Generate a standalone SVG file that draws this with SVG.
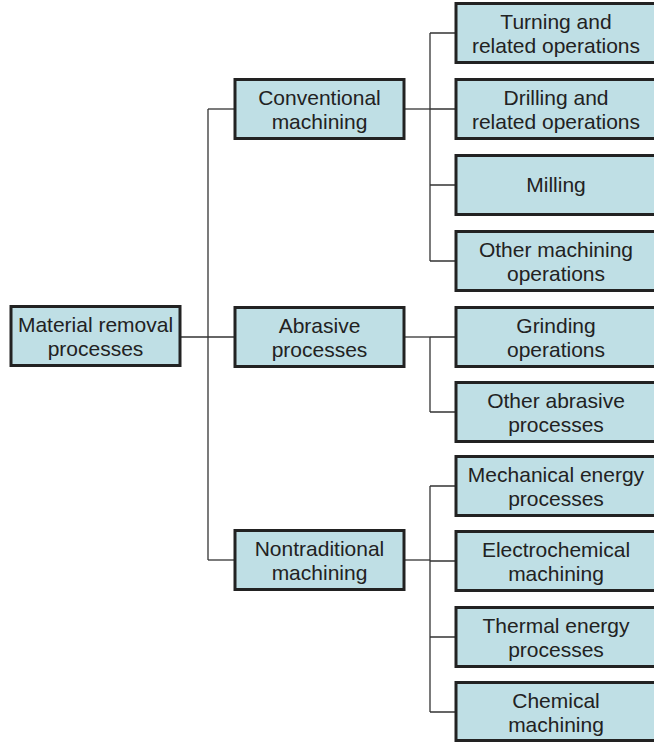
<svg xmlns="http://www.w3.org/2000/svg" width="654" height="742" viewBox="0 0 654 742">
<style>
.box{fill:#bfdfe5;stroke:#222;stroke-width:3}
.t{font-family:"Liberation Sans",Arial,sans-serif;font-size:21px;fill:#222;text-anchor:middle}
.ln{fill:none;stroke:#333;stroke-width:1.3}
</style>
<rect width="654" height="742" fill="#fff"/>
<g id="connectors" class="ln">
<path d="M208 109V560"/>
<path d="M180 337H235"/>
<path d="M208 109H235"/>
<path d="M208 560H235"/>
<path d="M404 109H430"/>
<path d="M430 33V261"/>
<path d="M430 33H456M430 109H456M430 185H456M430 261H456"/>
<path d="M404 337H430"/>
<path d="M430 337V412"/>
<path d="M430 337H456M430 412H456"/>
<path d="M404 560H430"/>
<path d="M430 486V712"/>
<path d="M430 486H456M430 561H456M430 637H456M430 712H456"/>
</g>
<g id="n-root"><rect class="box" x="11" y="306.5" width="169" height="59"/><text class="t" x="95.5" y="332">Material removal</text><text class="t" x="95.5" y="356">processes</text></g>
<g id="n-conv"><rect class="box" x="235" y="79.5" width="169" height="59"/><text class="t" x="319.5" y="105">Conventional</text><text class="t" x="319.5" y="129">machining</text></g>
<g id="n-abr"><rect class="box" x="235" y="307.5" width="169" height="59"/><text class="t" x="319.5" y="333">Abrasive</text><text class="t" x="319.5" y="357">processes</text></g>
<g id="n-nontrad"><rect class="box" x="235" y="530.5" width="169" height="59"/><text class="t" x="319.5" y="556">Nontraditional</text><text class="t" x="319.5" y="580">machining</text></g>
<g id="n-turning"><rect class="box" x="456" y="3.5" width="202" height="59"/><text class="t" x="556" y="29">Turning and</text><text class="t" x="556" y="53">related operations</text></g>
<g id="n-drilling"><rect class="box" x="456" y="79.5" width="202" height="59"/><text class="t" x="556" y="105">Drilling and</text><text class="t" x="556" y="129">related operations</text></g>
<g id="n-milling"><rect class="box" x="456" y="155.5" width="202" height="59"/><text class="t" x="556" y="192">Milling</text></g>
<g id="n-othermach"><rect class="box" x="456" y="231.5" width="202" height="59"/><text class="t" x="556" y="257">Other machining</text><text class="t" x="556" y="281">operations</text></g>
<g id="n-grinding"><rect class="box" x="456" y="307.5" width="202" height="59"/><text class="t" x="556" y="333">Grinding</text><text class="t" x="556" y="357">operations</text></g>
<g id="n-otherabr"><rect class="box" x="456" y="382.5" width="202" height="59"/><text class="t" x="556" y="408">Other abrasive</text><text class="t" x="556" y="432">processes</text></g>
<g id="n-mech"><rect class="box" x="456" y="456.5" width="202" height="59"/><text class="t" x="556" y="482">Mechanical energy</text><text class="t" x="556" y="506">processes</text></g>
<g id="n-electro"><rect class="box" x="456" y="531.5" width="202" height="59"/><text class="t" x="556" y="557">Electrochemical</text><text class="t" x="556" y="581">machining</text></g>
<g id="n-thermal"><rect class="box" x="456" y="607.5" width="202" height="59"/><text class="t" x="556" y="633">Thermal energy</text><text class="t" x="556" y="657">processes</text></g>
<g id="n-chem"><rect class="box" x="456" y="682.5" width="202" height="58"/><text class="t" x="556" y="708">Chemical</text><text class="t" x="556" y="732">machining</text></g>
</svg>
